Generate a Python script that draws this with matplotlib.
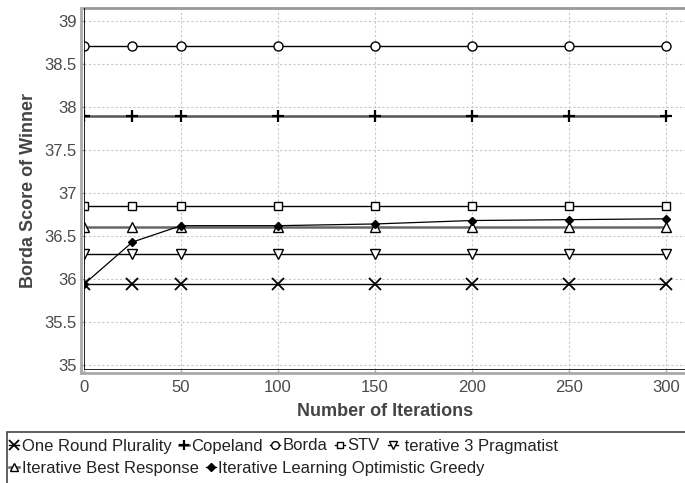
import numpy as np
import matplotlib
matplotlib.use("Agg")
import matplotlib.pyplot as plt
from matplotlib.lines import Line2D
from matplotlib.patches import Rectangle

plt.rcParams["font.family"] = ["Liberation Sans", "DejaVu Sans"]

# data
iterations = [0, 25, 50, 100, 150, 200, 250, 300]
plurality = [35.94] * 8
copeland = [37.89] * 8
borda = [38.71] * 8
stv = [36.85] * 8
pragmatist = [36.29] * 8
best_response = [36.61] * 8
learning = [35.94, 36.43, 36.62, 36.62, 36.64, 36.68, 36.69, 36.70]

labels = ["One Round Plurality", "Copeland", "Borda", "STV", " terative 3 Pragmatist",
          "Iterative Best Response", "Iterative Learning Optimistic Greedy"]
xticks = [0, 50, 100, 150, 200, 250, 300]
yticks = [35, 35.5, 36, 36.5, 37, 37.5, 38, 38.5, 39]
yticklabels = ["35", "35.5", "36", "36.5", "37", "37.5", "38", "38.5", "39"]

W, H = 685, 483
fig = plt.figure(figsize=(W / 100, H / 100), dpi=100)
ax = fig.add_axes([84 / W, 1 - 370 / H, (W - 84) / W, 362 / H])

series = [
    (plurality, dict(marker="x", ms=8.5, mew=1.3, color="black", lw=1.0)),
    (copeland, dict(marker="+", ms=8, mew=1.6, color="#555555", mec="black", lw=1.8)),
    (borda, dict(marker="o", ms=6.5, mfc="white", mew=1.0, color="black", lw=1.0)),
    (stv, dict(marker="s", ms=5.5, mfc="white", mew=1.0, color="black", lw=1.0)),
    (pragmatist, dict(marker="v", ms=7, mfc="white", mew=1.0, color="black", lw=1.0)),
    (best_response, dict(marker="^", ms=7, mfc="white", mew=1.0, color="#666666", mec="black", lw=1.8)),
    (learning, dict(marker="D", ms=4.5, mfc="black", mew=1.0, color="black", lw=0.9)),
]
handles = []
for (vals, st), lab in zip(series, labels):
    h, = ax.plot(iterations, vals, label=lab, zorder=3, **st)
    handles.append(h)

ax.set_xlim(0, 309.8)
ax.set_ylim(34.942, 39.151)
ax.set_xticks(xticks)
ax.set_yticks(yticks)
ax.set_yticklabels(yticklabels)
ax.grid(True, color="#c8c8c8", linestyle=(0, (2, 2)), linewidth=0.8)
ax.set_axisbelow(True)
ax.tick_params(colors="#999999", labelcolor="#4a4a4a", labelsize=12, length=3, width=1)
ax.tick_params(axis="x", pad=4)
ax.tick_params(axis="y", pad=2)
ax.spines["right"].set_visible(False)
ax.spines["left"].set_visible(False)
ax.spines["bottom"].set_visible(False)
ax.spines["top"].set_color("#999999")
ax.spines["top"].set_linewidth(2)
ax.axvline(0, color="black", lw=1.2, zorder=4)
ax.axhline(34.942, color="black", lw=1.2, zorder=4)

# outer grey frame, a few pixels outside the black axis lines
fig.add_artist(Line2D([80.5 / W, 80.5 / W], [1 - 8 / H, 1 - 373 / H], transform=fig.transFigure,
                      color="#aaaaaa", lw=2))
fig.add_artist(Line2D([80.5 / W, 1], [1 - 373 / H, 1 - 373 / H], transform=fig.transFigure,
                      color="#aaaaaa", lw=2))

fig.text(385 / W, 1 - 412 / H, "Number of Iterations", fontsize=13, fontweight="bold",
         color="#444444", ha="center", va="center")
fig.text(29 / W, 1 - 190 / H, "Borda Score of Winner", fontsize=13, fontweight="bold",
         color="#444444", ha="center", va="center", rotation=90)

legend_kw = dict(frameon=False, fontsize=12, handlelength=0.6, handletextpad=0.15,
                 columnspacing=0.45, borderpad=0, borderaxespad=0, markerscale=0.85,
                 labelcolor="#222222")
leg1 = fig.legend(handles[:5], labels[:5], ncol=5, loc="center left",
                  bbox_to_anchor=(9 / W, 1 - 446 / H), **legend_kw)
leg2 = fig.legend(handles[5:], labels[5:], ncol=2, loc="center left",
                  bbox_to_anchor=(9 / W, 1 - 468 / H), **legend_kw)
fig.add_artist(Rectangle((7 / W, -0.1), 2, 1 - 432 / H + 0.1, transform=fig.transFigure,
                         fill=False, edgecolor="#444444", lw=1.2))

fig.savefig("out.png", dpi=100)
